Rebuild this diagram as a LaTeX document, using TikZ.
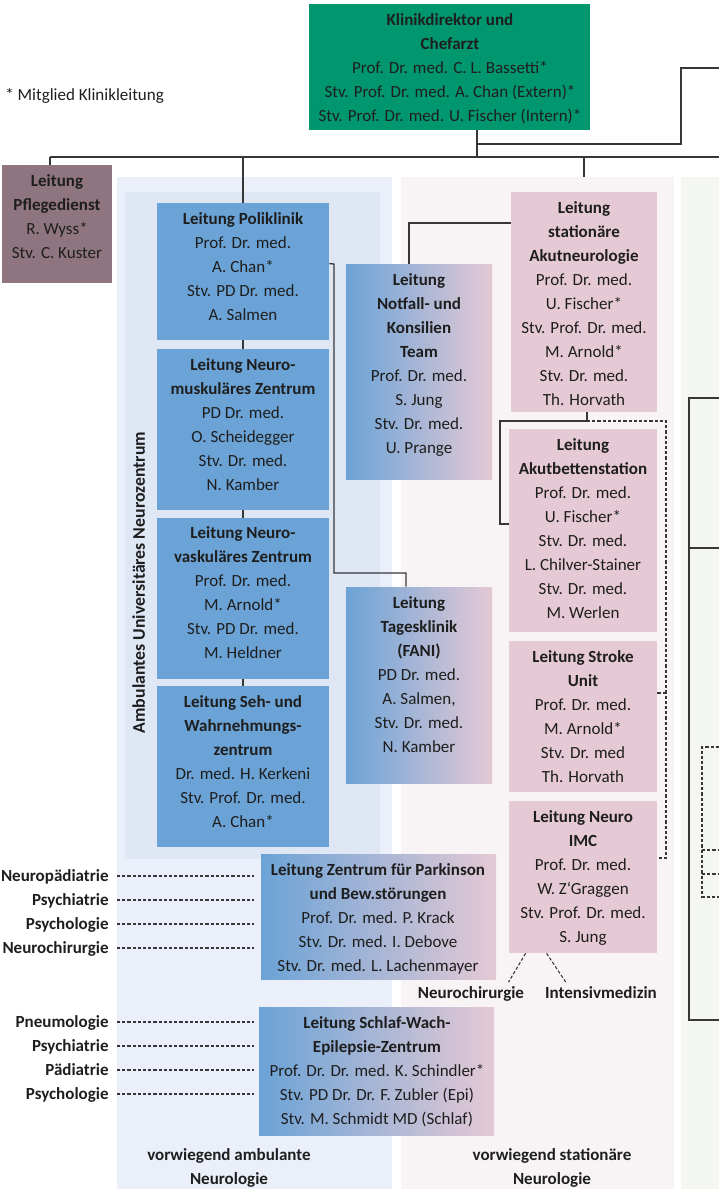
\documentclass[tikz,border=0pt]{standalone}
\usepackage{fontspec}
\setmainfont{Carlito}
\usetikzlibrary{fit}

\definecolor{direktorgreen}{RGB}{0,151,111}
\definecolor{pflegemauve}{RGB}{142,117,128}
\definecolor{ambblue}{RGB}{107,163,214}
\definecolor{statpink}{RGB}{229,201,213}
\definecolor{ambouter}{RGB}{234,239,249}
\definecolor{ambinner}{RGB}{223,231,245}
\definecolor{statbg}{RGB}{248,244,245}
\definecolor{rightbg}{RGB}{244,246,242}
\definecolor{inkgray}{RGB}{30,30,30}
\definecolor{linegray}{RGB}{55,55,55}

\tikzset{
  panel/.style={inner sep=0pt, draw=none},
  orgbox/.style={inner sep=0pt, draw=none},
  bluebox/.style={orgbox, fill=ambblue},
  pinkbox/.style={orgbox, fill=statpink},
  mixbox/.style={orgbox, left color=ambblue, right color=statpink},
  boxtext/.style={anchor=north, yshift=3pt, inner sep=0pt, align=center, text=inkgray, font=\fontsize{8.5}{12}\selectfont},
  sidelabel/.style={inner sep=0pt, text height=5.4pt, text depth=0pt, text=inkgray, font=\fontsize{8.5}{12}\selectfont\bfseries},
  conn/.style={draw=linegray, line width=0.65pt},
  dconn/.style={draw=linegray, line width=0.55pt, dash pattern=on 1.6pt off 1pt},
}

\begin{document}
\begin{tikzpicture}[x=0.5pt, y=-0.5pt]
  \useasboundingbox (0,0) rectangle (719,1189);

  \node[panel, fill=ambouter, fit={(117,177) (392,1189)}] (ambpanel) {};
  \node[panel, fill=ambinner, fit={(125,192) (380,859)}] (ambcore) {};
  \node[panel, fill=statbg, fit={(401,177) (674,1189)}] (statpanel) {};
  \node[panel, fill=rightbg, fit={(681,177) (719,1189)}] (rightpanel) {};

  \node[orgbox, fill=direktorgreen, fit={(309,4) (590,130)}] (direktor) {};
  \node[boxtext] at (450,19) {\textbf{Klinikdirektor und}\\\textbf{Chefarzt}\\Prof. Dr. med. C. L. Bassetti*\\Stv. Prof. Dr. med. A. Chan (Extern)*\\Stv. Prof. Dr. med. U. Fischer (Intern)*};
  \node[sidelabel, anchor=west, font=\fontsize{8.5}{12}\selectfont] (legend) at (5,95) {* Mitglied Klinikleitung};

  \node[orgbox, fill=pflegemauve, fit={(2,165) (112,283)}] (pflege) {};
  \node[boxtext] at (57,180) {\textbf{Leitung}\\\textbf{Pflegedienst}\\R. Wyss*\\Stv. C. Kuster};

  \node[bluebox, fit={(157,203) (329,340)}] (poli) {};
  \node[boxtext] at (243,218) {\textbf{Leitung Poliklinik}\\Prof. Dr. med.\\A. Chan*\\Stv. PD Dr. med.\\A. Salmen};
  \node[bluebox, fit={(157,349) (329,510)}] (muskel) {};
  \node[boxtext] at (243,364) {\textbf{Leitung Neuro-}\\\textbf{muskuläres Zentrum}\\PD Dr. med.\\O. Scheidegger\\Stv. Dr. med.\\N. Kamber};
  \node[bluebox, fit={(157,518) (329,679)}] (vask) {};
  \node[boxtext] at (243,532) {\textbf{Leitung Neuro-}\\\textbf{vaskuläres Zentrum}\\Prof. Dr. med.\\M. Arnold*\\Stv. PD Dr. med.\\M. Heldner};
  \node[bluebox, fit={(157,686) (329,847)}] (seh) {};
  \node[boxtext] at (243,701) {\textbf{Leitung Seh- und}\\\textbf{Wahrnehmungs-}\\\textbf{zentrum}\\Dr. med. H. Kerkeni\\Stv. Prof. Dr. med.\\A. Chan*};

  \node[mixbox, fit={(346,264) (492,479)}] (notfall) {};
  \node[boxtext] at (419,279) {\textbf{Leitung}\\\textbf{Notfall- und}\\\textbf{Konsilien}\\\textbf{Team}\\Prof. Dr. med.\\S. Jung\\Stv. Dr. med.\\U. Prange};
  \node[mixbox, fit={(346,587) (492,783)}] (tages) {};
  \node[boxtext] at (419,602) {\textbf{Leitung}\\\textbf{Tagesklinik}\\\textbf{(FANI)}\\PD Dr. med.\\A. Salmen,\\Stv. Dr. med.\\N. Kamber};

  \node[pinkbox, fit={(511,192) (657,412)}] (akut) {};
  \node[boxtext] at (584,207) {\textbf{Leitung}\\\textbf{stationäre}\\\textbf{Akutneurologie}\\Prof. Dr. med.\\U. Fischer*\\Stv. Prof. Dr. med.\\M. Arnold*\\Stv. Dr. med.\\Th. Horvath};
  \node[pinkbox, fit={(509,429) (657,632)}] (betten) {};
  \node[boxtext] at (583,444) {\textbf{Leitung}\\\textbf{Akutbettenstation}\\Prof. Dr. med.\\U. Fischer*\\Stv. Dr. med.\\L. Chilver-Stainer\\Stv. Dr. med.\\M. Werlen};
  \node[pinkbox, fit={(509,641) (657,792)}] (stroke) {};
  \node[boxtext] at (583,656) {\textbf{Leitung Stroke}\\\textbf{Unit}\\Prof. Dr. med.\\M. Arnold*\\Stv. Dr. med\\Th. Horvath};
  \node[pinkbox, fit={(509,801) (657,953)}] (imc) {};
  \node[boxtext] at (583,816) {\textbf{Leitung Neuro}\\\textbf{IMC}\\Prof. Dr. med.\\W. Z`Graggen\\Stv. Prof. Dr. med.\\S. Jung};

  \node[mixbox, fit={(261,854) (496,979)}] (park) {};
  \node[boxtext] at (378,869) {\textbf{Leitung Zentrum für Parkinson}\\\textbf{und Bew.störungen}\\Prof. Dr. med. P. Krack\\Stv. Dr. med. I. Debove\\Stv. Dr. med. L. Lachenmayer};
  \node[mixbox, fit={(259,1007) (494,1135)}] (schlaf) {};
  \node[boxtext] at (377,1022) {\textbf{Leitung Schlaf-Wach-}\\\textbf{Epilepsie-Zentrum}\\Prof. Dr. Dr. med. K. Schindler*\\Stv. PD Dr. Dr. F. Zubler (Epi)\\Stv. M. Schmidt MD (Schlaf)};

  \node[sidelabel, rotate=90, font=\fontsize{8.9}{12}\selectfont\bfseries] (ambtitle) at (139.5,582.5) {Ambulantes Universitäres Neurozentrum};
  \node[boxtext, font=\fontsize{8.5}{12}\selectfont\bfseries] (ambfoot) at (229,1154) {vorwiegend ambulante\\Neurologie};
  \node[boxtext, font=\fontsize{8.5}{12}\selectfont\bfseries] (statfoot) at (552,1154) {vorwiegend stationäre\\Neurologie};

  \coordinate (hub) at (477,157);
  \coordinate (branch) at (477,144);
  \coordinate (busL) at (50,157);
  \coordinate (busR) at (719,157);
  \draw[conn] (direktor.south -| hub) -- (hub);
  \draw[conn] (branch) -| (681,68) -- (719,68);
  \draw[conn] (busL) -- (busR);
  \draw[conn] (busL) -- (busL |- pflege.north);
  \draw[conn] (poli.north |- busL) -- (poli.north);
  \draw[conn] (akut.north |- busL) -- (akut.north |- statpanel.north);

  \draw[conn] (poli.south) -- (muskel.north);
  \draw[conn] (muskel.south) -- (vask.north);
  \draw[conn] (vask.south) -- (seh.north);
  \draw[conn] (poli.east |- notfall.north) -- (334,264) |- (406,573) -- ([xshift=-6.5pt]tages.north);
  \draw[conn] ([yshift=39.5pt]akut.west) -| ([xshift=-5pt]notfall.north);

  \coordinate (akutfoot) at (587,421);
  \draw[conn] (akut.south -| akutfoot) -- (akutfoot) -- (500,421) |- ([yshift=3.25pt]betten.west);
  \draw[dconn] (akutfoot) -- (666,421) |- ([yshift=9.5pt]imc.east);
  \draw[dconn] ([yshift=11.75pt]stroke.east) -- ++(9,0);

  \node[sidelabel] (nchir) at (471,993) {Neurochirurgie};
  \node[sidelabel] (intens) at (601,993) {Intensivmedizin};
  \draw[dconn] ([xshift=8.5pt]imc.south west) -- ([xshift=-8pt, yshift=2.5pt]nchir.north east);
  \draw[dconn] ([xshift=19pt]imc.south west) -- ([xshift=10.5pt, yshift=2.5pt]intens.north west);

  \foreach \lbl/\yy/\nm in {Neuropädiatrie/876/npaed, Psychiatrie/900/psyA, Psychologie/924/psoA, Neurochirurgie/948/nchA}{
    \node[sidelabel, anchor=east] (\nm) at (109,\yy) {\lbl};
    \draw[dconn, shorten <=4pt, shorten >=3.5pt] (\nm.east) -- (\nm.east -| park.west);
  }
  \foreach \lbl/\yy/\nm in {Pneumologie/1022/pneu, Psychiatrie/1046/psyB, Pädiatrie/1070/paed, Psychologie/1094/psoB}{
    \node[sidelabel, anchor=east] (\nm) at (109,\yy) {\lbl};
    \draw[dconn, shorten <=4pt, shorten >=2.5pt] (\nm.east) -- (\nm.east -| schlaf.west);
  }

  \draw[conn] (719,398) -- (689,398) -- (689,1020) -- (719,1020);
  \draw[conn] (689,548) -- (719,548);
  \draw[dconn] (719,747) -- (702,747) -- (702,897) -- (719,897);
  \draw[dconn] (702,850) -- (719,850);
  \draw[dconn] (702,874) -- (719,874);
\end{tikzpicture}
\end{document}
